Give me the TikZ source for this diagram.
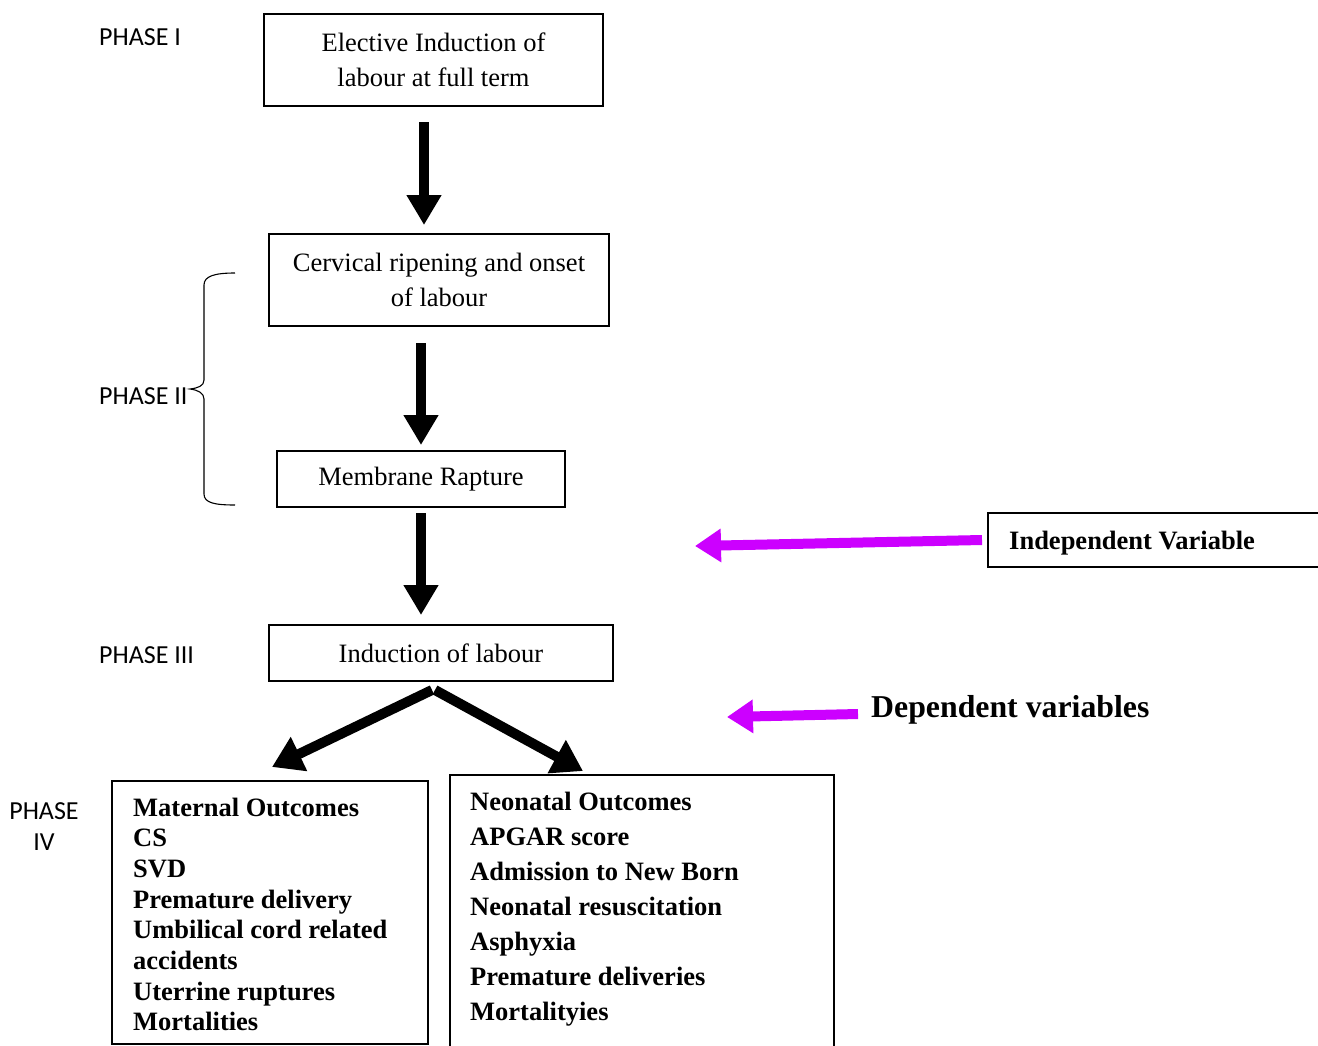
\documentclass[tikz,border=0pt]{standalone}
\usepackage{fontspec}
\setmainfont{Liberation Serif}
\newfontfamily\phasefont{Carlito}
\usetikzlibrary{arrows.meta,calc}
\definecolor{mag}{HTML}{CC00FF}
\tikzset{
  box/.style={draw, line width=1.3pt, inner sep=0pt, align=center,
    font=\fontsize{26.5}{35}\selectfont},
  phase/.style={inner sep=0pt, anchor=base west, font=\phasefont\fontsize{26}{31}\selectfont},
  outl/.style={inner sep=0pt, anchor=base west, font=\bfseries\fontsize{26.5}{30}\selectfont},
  bigarrow/.style={line width=10pt, -{Triangle[length=30pt,width=33pt]}},
  magarrow/.style={mag, line width=10pt, -{Triangle[length=26pt,width=32pt]}},
}
\begin{document}
\begin{tikzpicture}[x=1pt,y=-1pt]
\useasboundingbox (0,0) rectangle (1318,1045);
\clip (0,0) rectangle (1318,1045);
\fill[white] (0,0) rectangle (1318,1045);

% phase labels
\node[phase] (p1) at (99,45) {PHASE I};
\node[phase] (p2) at (99,404) {PHASE II};
\node[phase] (p3) at (99,663) {PHASE III};
\node[phase, anchor=center, align=center, font=\phasefont\fontsize{26}{31}\selectfont] (p4) at (44,827) {PHASE\\IV};

% boxes
\node[box, minimum width=339pt, minimum height=92pt] (b1) at (433.5,60) {Elective Induction of\\labour at full term};
\node[box, minimum width=340pt, minimum height=92pt] (b2) at (439,280) {Cervical ripening and onset\\of labour};
\node[box, minimum width=288pt, minimum height=56pt] (b3) at (421,479) {Membrane Rapture};
\node[box, minimum width=344pt, minimum height=56pt] (b4) at (441,653) {Induction of labour};
\node[box, minimum width=316pt, minimum height=263pt] (b5) at (270,912.5) {};
\node[box, minimum width=384pt, minimum height=290pt] (b6) at (642,920) {};
\node[box, minimum width=340pt, minimum height=54pt] (iv) at (1158,540) {};
\node[outl] (ivt) at (1009,549) {Independent Variable};
\node[outl, font=\bfseries\fontsize{31.8}{36}\selectfont] (dv) at (871,717) {Dependent variables};

% brace
\draw[line width=1.1pt] (235,273) .. controls (215,273) and (204,276) .. (204,285)
  -- (204,380) .. controls (204,386) and (198,388) .. (190,389)
  .. controls (198,390) and (204,393) .. (204,399)
  -- (204,494) .. controls (204,503) and (215,505) .. (235,505);

% outcome lists
\foreach \t [count=\i from 0] in {Maternal Outcomes, CS, SVD, Premature delivery, Umbilical cord related, accidents, Uterrine ruptures, Mortalities}
  \node[outl] (m\i) at (133,816+30.7*\i) {\t};
\foreach \t [count=\i from 0] in {Neonatal Outcomes, APGAR score, Admission to New Born, Neonatal resuscitation, Asphyxia, Premature deliveries, Mortalityies}
  \node[outl] (n\i) at (470,810.7+35*\i) {\t};

% arrow coordinates
\coordinate (a1s) at (424,122); \coordinate (a1e) at (424,225);
\coordinate (a2s) at (421,343); \coordinate (a2e) at (421,445);
\coordinate (a3s) at (421,513); \coordinate (a3e) at (421,615);
\coordinate (a4s) at (432,690); \coordinate (a4e) at (272,767);
\coordinate (a5s) at (435,690); \coordinate (a5e) at (583,771);
\coordinate (ivs) at (982,540); \coordinate (ive) at (695,546);
\coordinate (dvs) at (858,714); \coordinate (dve) at (727,717);

\draw[bigarrow] (a1s) -- (a1e);
\draw[bigarrow] (a2s) -- (a2e);
\draw[bigarrow] (a3s) -- (a3e);
\draw[bigarrow, -{Triangle[length=30pt,width=36pt]}] (a4s) -- (a4e);
\draw[bigarrow, -{Triangle[length=30pt,width=36pt]}] (a5s) -- (a5e);
\draw[magarrow] (ivs) -- (ive);
\draw[magarrow] (dvs) -- (dve);
\end{tikzpicture}
\end{document}
